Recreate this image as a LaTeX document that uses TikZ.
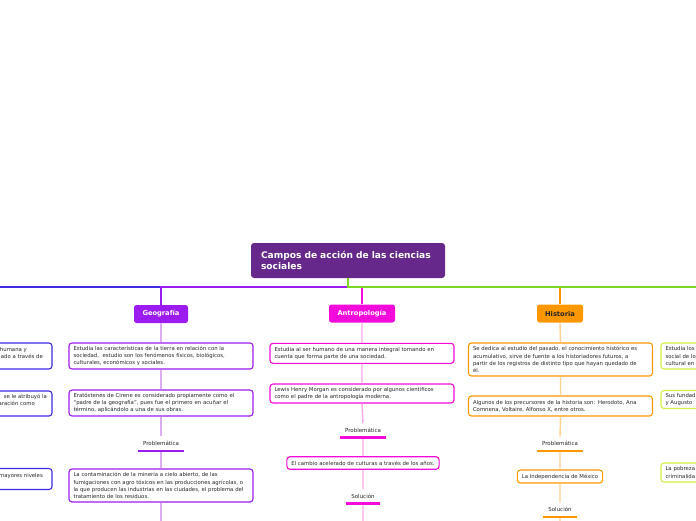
\documentclass[tikz,border=0pt]{standalone}
\usepackage{fontspec}
\setmainfont{DejaVu Sans}

\definecolor{rootcol}{RGB}{102,41,139}
\definecolor{geocol}{RGB}{155,27,240}
\definecolor{geolight}{RGB}{220,172,247}
\definecolor{antrocol}{RGB}{245,10,220}
\definecolor{antrolight}{RGB}{251,168,240}
\definecolor{histcol}{RGB}{255,152,0}
\definecolor{histlight}{RGB}{255,210,145}
\definecolor{leftcol}{RGB}{62,42,230}
\definecolor{rightcol}{RGB}{125,215,40}
\definecolor{rightbox}{RGB}{210,240,70}
\definecolor{txt}{RGB}{38,38,38}

\begin{document}
\begin{tikzpicture}[x=1pt, y=-1pt,
    head/.style={rounded corners=2.5pt, minimum height=18pt, inner sep=0pt,
        font=\fontsize{6.7}{8}\selectfont\bfseries, text=white},
    card/.style={draw, rounded corners=3pt, fill=white, line width=1.1pt,
        inner xsep=4.5pt, inner ysep=0pt, align=left, text=txt,
        font=\fontsize{5.35}{7.1}\selectfont},
    wide/.style={text width=175pt},
    note/.style={inner sep=0pt, text=txt, font=\fontsize{5.35}{7.1}\selectfont},
    tag/.style={inner sep=0pt, minimum height=14pt, text=txt,
        font=\fontsize{5.5}{6.5}\selectfont},
    branch/.style={line width=1.4pt},
    stem/.style={line width=1.4pt},
    bar/.style={line width=2.2pt}]

    \useasboundingbox (0,0) rectangle (696,520);

    \node[fill=rootcol, rounded corners=3pt, minimum width=194pt, minimum height=35pt,
        text width=174pt, inner xsep=10pt, align=left, text=white,
        font=\fontsize{9.1}{11}\selectfont\bfseries] (root) at (348,260.5)
        {Campos de acción de las ciencias\\ sociales};

    \coordinate (hub) at (348,287);
    \coordinate (westend) at (-60,287);
    \coordinate (eastend) at (760,287);

    \node[head, fill=geocol, minimum width=54pt] (geo) at (161,314) {Geografía};
    \node[head, fill=antrocol, minimum width=66pt] (antro) at (362,313.5) {Antropología};
    \node[head, fill=histcol, minimum width=46pt, text=txt] (hist) at (560,313.5) {Historia};

    \draw[branch, leftcol] (hub) -- (westend);
    \draw[branch, geocol] (hub) -| (geo.north);
    \draw[branch, antrocol] (hub) -| (antro.north);
    \draw[branch, histcol] (hub) -| (hist.north);
    \draw[branch, rightcol] (root.south) -- (hub) -- (eastend);

    % geografia
    \node[card, wide, draw=geocol, minimum height=26pt] (g1) at (161,356)
        {Estudia las características de la tierra en relación con la\\
         sociedad,\ \ estudio son los fenómenos físicos, biológicos,\\
         culturales, económicos y sociales.};
    \node[card, wide, draw=geocol, minimum height=26pt] (g2) at (161,403)
        {Eratóstenes de Cirene es considerado propiamente como el\\
         “padre de la geografía”, pues fue el primero en acuñar el\\
         término, aplicándolo a una de sus obras.};
    \node[tag, minimum width=46pt] (gp) at (161,443.5) {Problemática};
    \node[card, wide, draw=geocol, minimum height=33pt] (g3) at (161,485.5)
        {La contaminación de la minería a cielo abierto, de las\\
         fumigaciones con agro tóxicos en las producciones agrícolas, o\\
         la que producen las industrias en las ciudades, el problema del\\
         tratamiento de los residuos.};
    \coordinate (gend) at (161,525);

    \draw[stem, geolight] (geo.south) -- (g1.north) (g1.south) -- (g2.north)
        (g2.south) -- (gp.north) (gp.south) -- (g3.north) (g3.south) -- (gend);
    \draw[bar, geocol] (gp.south west) -- (gp.south east);

    % antropologia
    \node[card, wide, draw=antrocol, minimum height=20pt] (a1) at (362,353.3)
        {Estudia al ser humano de una manera integral tomando en\\
         cuenta que forma parte de una sociedad.};
    \node[card, wide, draw=antrocol, minimum height=19pt] (a2) at (362,393.5)
        {Lewis Henry Morgan es considerado por algunos científicos\\
         como el padre de la antropología moderna.};
    \node[tag, minimum width=46pt] (ap) at (363,430.3) {Problemática};
    \node[card, draw=antrocol, minimum height=12.5pt] (a3) at (363,463)
        {El cambio acelerado de culturas a través de los años.};
    \node[tag, minimum width=33pt] (as) at (363,496.3) {Solución};
    \coordinate (aend) at (363,525);

    \draw[stem, antrolight] (antro.south) -- (a1.north) (a1.south) -- (a2.north)
        (a2.south) -- (ap.north) (ap.south) -- (a3.north) (a3.south) -- (as.north)
        (as.south) -- (aend);
    \draw[bar, antrocol] (ap.south west) -- (ap.south east);
    \draw[bar, antrocol] (as.south west) -- (as.south east);

    % historia
    \node[card, wide, draw=histcol, minimum height=33pt] (h1) at (560.5,359.5)
        {Se dedica al estudio del pasado, el conocimiento histórico es\\
         acumulativo, sirve de fuente a los historiadores futuros, a\\
         partir de los registros de distinto tipo que hayan quedado de\\
         él.};
    \node[card, wide, draw=histcol, minimum height=20pt] (h2) at (560.5,406)
        {Algunos de los precursores de la historia son: Herodoto, Ana\\
         Comnena, Voltaire, Alfonso X, entre otros.};
    \node[tag, minimum width=46pt] (hp) at (560,443.7) {Problemática};
    \node[card, draw=histcol, minimum height=13pt] (h3) at (560,476.5)
        {La Independencia de México};
    \node[tag, minimum width=34pt] (hs) at (560,509.7) {Solución};
    \coordinate (hend) at (560,525);

    \draw[stem, histlight] (hist.south) -- (h1.north) (h1.south) -- (h2.north)
        (h2.south) -- (hp.north) (hp.south) -- (h3.north) (h3.south) -- (hs.north)
        (hs.south) -- (hend);
    \draw[bar, histcol] (hp.south west) -- (hp.south east);
    \draw[bar, histcol] (hs.south west) -- (hs.south east);

    % ramas cortadas
    \node[card, draw=leftcol, minimum width=184pt, minimum height=26pt] (l1) at (-40,356) {};
    \node[card, draw=leftcol, minimum width=184pt, minimum height=25pt] (l2) at (-40,403.5) {};
    \node[card, draw=leftcol, minimum width=184pt, minimum height=21pt] (l3) at (-40,479) {};
    \node[note, anchor=base east] (l1a) at (27,351.5) {humana y};
    \node[note, anchor=base east] (l1b) at (43,358.6) {ado a través de};
    \node[note, anchor=base east] (l2a) at (47,398.5) {se le atribuyó la};
    \node[note, anchor=base east] (l2b) at (35,405.6) {aración como};
    \node[note, anchor=base east] (l3a) at (43,477.5) {mayores niveles};

    \node[card, wide, draw=rightbox, minimum height=26pt] (r1) at (753,356)
        {Estudia los\\ social de lo\\ cultural en};
    \node[card, wide, draw=rightbox, minimum height=18pt] (r2) at (753,399.5)
        {Sus fundad\\ y Augusto};
    \node[card, wide, draw=rightbox, minimum height=19pt] (r3) at (753,472.5)
        {La pobreza\\ criminalida};
\end{tikzpicture}
\end{document}
